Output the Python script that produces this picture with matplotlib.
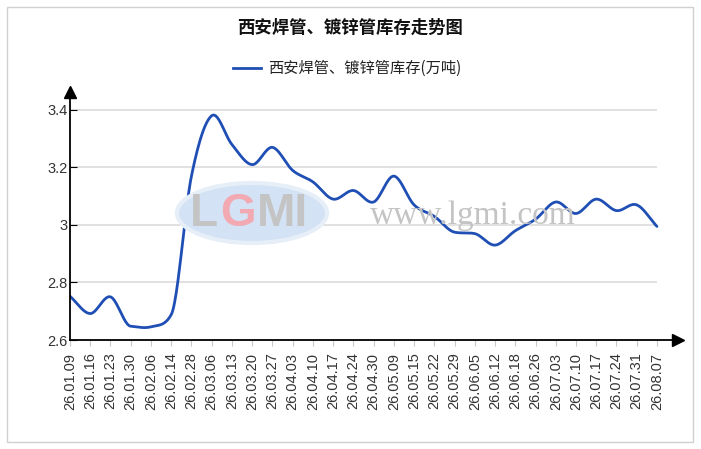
import numpy as np
import matplotlib
matplotlib.use('Agg')
import matplotlib.pyplot as plt
from matplotlib.patches import Rectangle, Ellipse

plt.rcParams['font.family'] = ['Liberation Sans', 'Noto Sans CJK SC', 'DejaVu Sans']

# --- donnees ---
dates = ['26.01.09', '26.01.16', '26.01.23', '26.01.30', '26.02.06', '26.02.14',
         '26.02.28', '26.03.06', '26.03.13', '26.03.20', '26.03.27', '26.04.03',
         '26.04.10', '26.04.17', '26.04.24', '26.04.30', '26.05.09', '26.05.15',
         '26.05.22', '26.05.29', '26.06.05', '26.06.12', '26.06.18', '26.06.26',
         '26.07.03', '26.07.10', '26.07.17', '26.07.24', '26.07.31', '26.08.07']
stock = [2.752, 2.692, 2.75, 2.648, 2.646, 2.688, 3.17, 3.38, 3.28, 3.21,
         3.27, 3.19, 3.15, 3.09, 3.12, 3.08, 3.17, 3.07, 3.03, 2.975,
         2.97, 2.93, 2.98, 3.02, 3.08, 3.04, 3.09, 3.05, 3.07, 2.995]
yticks = [2.6, 2.8, 3.0, 3.2, 3.4]
ylabels = ['2.6', '2.8', '3', '3.2', '3.4']

title = '西安焊管、镀锌管库存走势图'
serie = '西安焊管、镀锌管库存(万吨)'
blue = '#1f4fb4'


def lisse(x, y, n=24):
    # courbe de Hermite (tangentes de Catmull-Rom, bornees pour eviter les rebonds)
    x = np.asarray(x, float)
    y = np.asarray(y, float)
    d = np.diff(y) / np.diff(x)
    m = np.zeros_like(y)
    m[0], m[-1] = d[0], d[-1]
    for i in range(1, len(y) - 1):
        m[i] = 0.5 * (d[i - 1] + d[i])
        if d[i - 1] * d[i] > 0:
            lim = 3 * min(abs(d[i - 1]), abs(d[i]))
            m[i] = np.sign(m[i]) * min(abs(m[i]), lim)
    xs, ys = [], []
    for i in range(len(x) - 1):
        h = x[i + 1] - x[i]
        t = np.linspace(0, 1, n, endpoint=False)
        h00 = 2 * t**3 - 3 * t**2 + 1
        h10 = t**3 - 2 * t**2 + t
        h01 = -2 * t**3 + 3 * t**2
        h11 = t**3 - t**2
        xs.append(x[i] + h * t)
        ys.append(h00 * y[i] + h10 * h * m[i] + h01 * y[i + 1] + h11 * h * m[i + 1])
    xs.append([x[-1]])
    ys.append([y[-1]])
    return np.concatenate(xs), np.concatenate(ys)


W, H = 701, 449
fig = plt.figure(figsize=(W / 100, H / 100), dpi=100)

# cadre exterieur
fig.patches.append(Rectangle((7 / W, 7 / H), 686 / W, 435 / H, transform=fig.transFigure,
                             fill=False, edgecolor='#d0d0d0', lw=1))

ax = fig.add_axes([70 / W, (H - 340) / H, 608 / W, 248 / H])
xpos = np.arange(len(dates))
ax.set_xlim(0, 30.04)
ax.set_ylim(2.6, 3.4626)

# filigrane
fig.patches.append(Ellipse((252 / W, 1 - 213 / H), 150 / W, 60 / H, transform=fig.transFigure,
                           facecolor='#d3e2f4', edgecolor='#e6eef8', lw=3, zorder=0.5))
for lettre, px, coul in [('L', 190, '#c4c4c4'), ('G', 220, '#f2a9b2'), ('MI', 257, '#c4c4c4')]:
    fig.text(px / W, 1 - 214 / H, lettre, ha='left', va='center',
             fontsize=33, fontweight='bold', color=coul, zorder=0.6)
fig.text(473 / W, 1 - 216 / H, 'www.lgmi.com', ha='center',
         va='center', fontsize=24, family='Liberation Serif', color='#c4c4c4', zorder=0.6)

ax.patch.set_alpha(0)
ax.hlines(yticks[1:], 0, 29, colors='#dcdcdc', lw=1.2, zorder=1)

xs, ys = lisse(xpos, stock)
ax.plot(xs, ys, color=blue, lw=2, zorder=3, solid_capstyle='round')

for s in ['top', 'right']:
    ax.spines[s].set_visible(False)
for s in ['left', 'bottom']:
    ax.spines[s].set_color('black')
    ax.spines[s].set_linewidth(1.3)
    ax.spines[s].set_zorder(4)

# fleches des axes
ax.plot([0], [3.4626], marker='^', color='black', markersize=9, clip_on=False, zorder=5)
ax.plot([30.04], [2.6], marker='>', color='black', markersize=9, clip_on=False, zorder=5)

ax.set_xticks(xpos)
ax.set_xticklabels(dates, rotation=90, fontsize=10.5, color='#333333')
ax.tick_params(axis='x', direction='out', length=4, color='#c8c8c8', pad=5)
ax.set_yticks(yticks)
ax.set_yticklabels(ylabels, fontsize=10.5, color='#333333')
ax.tick_params(axis='y', direction='in', length=5, color='black', pad=2)

fig.text(350 / W, 1 - 28 / H, title, ha='center', va='center', fontsize=12.5,
         fontweight='bold', family=['Noto Sans CJK SC'], color='#111111')
fig.lines.append(plt.Line2D([233 / W, 261 / W], [1 - 68 / H, 1 - 68 / H],
                            transform=fig.transFigure, color=blue, lw=2))
fig.text(268 / W, 1 - 68 / H, serie, ha='left', va='center', fontsize=11,
         family=['Noto Sans CJK SC', 'DejaVu Sans'], color='#222222')

fig.savefig('out.png', dpi=100)
